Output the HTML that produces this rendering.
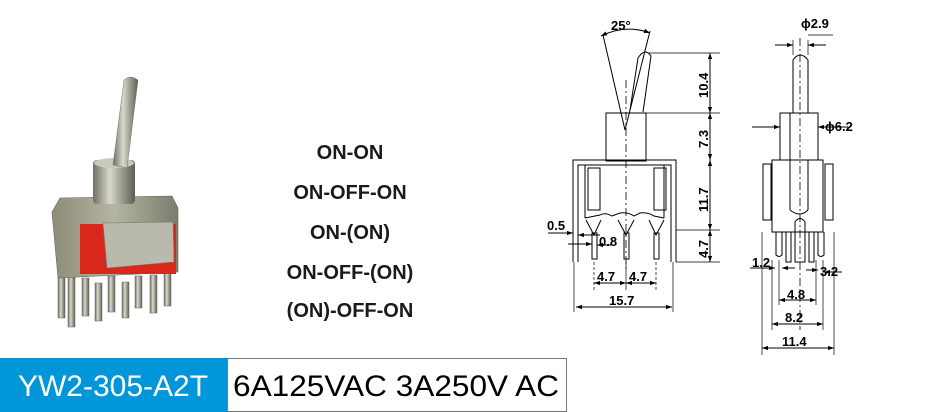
<!DOCTYPE html>
<html><head><meta charset="utf-8"><style>
html,body{margin:0;padding:0;background:#fff;}
body{width:930px;height:412px;position:relative;overflow:hidden;font-family:"Liberation Sans",sans-serif;}
.m{position:absolute;left:250px;width:200px;text-align:center;font-weight:bold;font-size:20px;color:#1a1a1a;line-height:20px;}
</style></head><body>
<svg width="930" height="412" style="position:absolute;left:0;top:0" font-family="Liberation Sans, sans-serif">
<defs>
<marker id="a" viewBox="0 0 10 10" refX="10" refY="5" markerWidth="9" markerHeight="6" orient="auto-start-reverse"><path d="M0,1.5L10,5L0,8.5z" fill="#000"/></marker>
<linearGradient id="mt" x1="0" x2="1"><stop offset="0" stop-color="#6f6f62"/><stop offset=".4" stop-color="#d8d8cc"/><stop offset=".7" stop-color="#9a9a8c"/><stop offset="1" stop-color="#5d5d52"/></linearGradient>
<linearGradient id="bd" x1="0" x2="1"><stop offset="0" stop-color="#8c8c78"/><stop offset=".5" stop-color="#b4b4a2"/><stop offset="1" stop-color="#7c7c6c"/></linearGradient>
</defs>
<g>
<g fill="url(#mt)" stroke="#666" stroke-width=".5">
<rect x="58" y="268" width="7" height="50"/><rect x="68" y="275" width="7" height="52"/>
<rect x="82" y="278" width="7" height="38"/><rect x="95" y="283" width="7" height="38"/>
<rect x="108" y="276" width="7" height="36"/><rect x="122" y="282" width="7" height="36"/>
<rect x="135" y="276" width="7" height="32"/><rect x="150" y="275" width="7" height="38"/>
<rect x="164" y="272" width="7" height="34"/>
</g>
<path d="M52,212 L60,198 L172,196 L178,208 L178,272 L58,278 Z" fill="url(#bd)" stroke="#666" stroke-width=".6"/>
<rect x="80" y="224" width="96" height="50" fill="#d8281c"/>
<path d="M103,223 L173,222 L174,262 L107,268 Z" fill="#b9b9ac" stroke="#777" stroke-width=".6"/>
<rect x="93" y="160" width="42" height="44" rx="4" fill="url(#mt)"/>
<ellipse cx="114" cy="163" rx="20" ry="5" fill="#c9c9bd"/>
<path d="M113,165 L124,80 Q130,74 138,80 L127,168 Z" fill="url(#mt)" stroke="#777" stroke-width=".5"/>
</g>
<g stroke="#000" stroke-width="1" fill="none">
<line x1="603" y1="35" x2="625" y2="130"/><line x1="650" y1="31" x2="625" y2="130"/>
<path d="M601,36 Q626,24 650,33" marker-start="url(#a)" marker-end="url(#a)"/>
<path d="M630,110 L638,58 Q645,47 651,56 L643,112" />
<line x1="626" y1="80" x2="626" y2="270" stroke-dasharray="8,3,2,3" stroke-width=".8"/>
<rect x="606" y="113" width="40" height="48"/>
<path d="M573,262 L573,160 L676,160 L676,262"/>
<path d="M578,262 L578,165 L671,165 L671,262"/>
<line x1="585" y1="165" x2="585" y2="218"/><line x1="664" y1="165" x2="664" y2="218"/>
<rect x="588" y="168" width="12" height="42"/><rect x="654" y="168" width="12" height="42"/>
<path d="M585,218 L600,215 Q605,212 612,216 L620,213 Q628,212 634,216 L640,213 Q648,212 654,216 L664,218"/>
<path d="M586,220 L594,235 L601,220 M618,220 L626,235 L634,220 M649,220 L656,235 L664,220"/>
<rect x="592" y="233" width="5" height="26"/><rect x="624" y="233" width="5" height="26"/><rect x="654" y="233" width="5" height="26"/>
<line x1="648" y1="53" x2="720" y2="53" stroke-width=".7"/>
<line x1="646" y1="113" x2="720" y2="113" stroke-width=".7"/>
<line x1="676" y1="230" x2="720" y2="230" stroke-width=".7"/>
<line x1="676" y1="262" x2="720" y2="262" stroke-width=".7"/>
<line x1="710" y1="53" x2="710" y2="113" marker-start="url(#a)" marker-end="url(#a)"/>
<line x1="710" y1="113" x2="710" y2="160" marker-start="url(#a)" marker-end="url(#a)"/>
<line x1="710" y1="160" x2="710" y2="230" marker-start="url(#a)" marker-end="url(#a)"/>
<line x1="710" y1="230" x2="710" y2="262" marker-start="url(#a)" marker-end="url(#a)"/>
<line x1="594" y1="262" x2="594" y2="290" stroke-dasharray="3,2" stroke-width=".7"/>
<line x1="626" y1="262" x2="626" y2="290" stroke-width=".7"/>
<line x1="656" y1="262" x2="656" y2="290" stroke-dasharray="3,2" stroke-width=".7"/>
<line x1="594" y1="283" x2="626" y2="283" marker-start="url(#a)" marker-end="url(#a)"/>
<line x1="626" y1="283" x2="656" y2="283" marker-start="url(#a)" marker-end="url(#a)"/>
<line x1="574" y1="262" x2="574" y2="312" stroke-width=".7"/><line x1="673" y1="262" x2="673" y2="312" stroke-width=".7"/>
<line x1="576" y1="307" x2="672" y2="307" marker-start="url(#a)" marker-end="url(#a)"/>
<line x1="548" y1="233" x2="573" y2="233" marker-end="url(#a)"/>
<line x1="600" y1="235" x2="578" y2="235" marker-end="url(#a)"/>
<line x1="568" y1="244" x2="592" y2="244" marker-end="url(#a)"/>
<line x1="612" y1="245" x2="597" y2="245" marker-end="url(#a)"/>
</g>
<g font-size="13" font-weight="bold" fill="#000">
<text x="611" y="30">25°</text>
<text x="547" y="230">0.5</text><text x="599" y="246">0.8</text>
<text x="597" y="281">4.7</text><text x="629" y="281">4.7</text>
<text x="609" y="305">15.7</text>
<text transform="translate(708,98) rotate(-90)">10.4</text>
<text transform="translate(708,148) rotate(-90)">7.3</text>
<text transform="translate(708,212) rotate(-90)">11.7</text>
<text transform="translate(708,258) rotate(-90)">4.7</text>
</g>
<g stroke="#000" stroke-width="1" fill="none">
<path d="M793,113 L793,60 Q800,50 808,60 L808,113"/>
<line x1="800" y1="38" x2="800" y2="330" stroke-dasharray="8,3,2,3" stroke-width=".8"/>
<line x1="793" y1="40" x2="793" y2="55" stroke-width=".7"/><line x1="808" y1="40" x2="808" y2="55" stroke-width=".7"/>
<line x1="775" y1="45" x2="793" y2="45" marker-end="url(#a)"/><line x1="826" y1="45" x2="808" y2="45" marker-end="url(#a)"/>
<line x1="808" y1="35" x2="833" y2="35" stroke-width=".7"/>
<rect x="780" y="113" width="38" height="47"/>
<line x1="752" y1="127" x2="780" y2="127" marker-end="url(#a)"/><line x1="848" y1="127" x2="818" y2="127" marker-end="url(#a)"/>
<line x1="790" y1="113" x2="790" y2="210"/><line x1="808" y1="160" x2="808" y2="210"/>
<path d="M790,210 Q800,218 808,210"/>
<rect x="772" y="160" width="51" height="72"/>
<rect x="763" y="164" width="8" height="56"/><rect x="825" y="164" width="8" height="56"/>
<path d="M776,232 L776,255 Q779,258 782,255 L782,232 M786,232 L786,262 L791,262 L791,232 M795,232 L795,222 Q800,215 805,222 L805,262 L795,262 L795,232 M809,232 L809,262 L814,262 L814,232 M818,232 L818,255 Q821,258 824,255 L824,232"/>
<line x1="762" y1="232" x2="762" y2="355" stroke-width=".7"/><line x1="834" y1="232" x2="834" y2="355" stroke-width=".7"/>
<line x1="772" y1="260" x2="772" y2="330" stroke-width=".7"/><line x1="823" y1="260" x2="823" y2="330" stroke-width=".7"/>
<line x1="779" y1="260" x2="779" y2="305" stroke-width=".7"/><line x1="816" y1="260" x2="816" y2="305" stroke-width=".7"/>
<line x1="750" y1="268" x2="775" y2="268" marker-end="url(#a)"/><line x1="795" y1="268" x2="782" y2="268" marker-end="url(#a)"/>
<line x1="806" y1="270" x2="818" y2="270" marker-end="url(#a)"/><line x1="842" y1="272" x2="824" y2="272" marker-end="url(#a)"/>
<line x1="779" y1="300" x2="816" y2="300" marker-start="url(#a)" marker-end="url(#a)"/>
<line x1="772" y1="324" x2="823" y2="324" marker-start="url(#a)" marker-end="url(#a)"/>
<line x1="762" y1="348" x2="834" y2="348" marker-start="url(#a)" marker-end="url(#a)"/>
</g>
<g font-size="13" font-weight="bold" fill="#000">
<text x="801" y="28">ϕ2.9</text><text x="825" y="131">ϕ6.2</text>
<text x="752" y="267">1.2</text><text x="820" y="276">3.2</text>
<text x="787" y="299">4.8</text><text x="785" y="322">8.2</text><text x="782" y="346">11.4</text>
</g>
<rect x="0" y="358" width="227" height="54" fill="#0096d9"/>
<rect x="227.5" y="358.5" width="339" height="53" fill="#fff" stroke="#777" stroke-width="1"/>
<text x="113" y="396" font-size="30" fill="#fff" text-anchor="middle">YW2-305-A2T</text>
<text x="233" y="396" font-size="30" fill="#000" textLength="326" lengthAdjust="spacingAndGlyphs">6A125VAC 3A250V AC</text>
</svg>
<div class="m" style="top:143px">ON-ON</div>
<div class="m" style="top:183px">ON-OFF-ON</div>
<div class="m" style="top:223px">ON-(ON)</div>
<div class="m" style="top:263px">ON-OFF-(ON)</div>
<div class="m" style="top:301px">(ON)-OFF-ON</div>
</body></html>
